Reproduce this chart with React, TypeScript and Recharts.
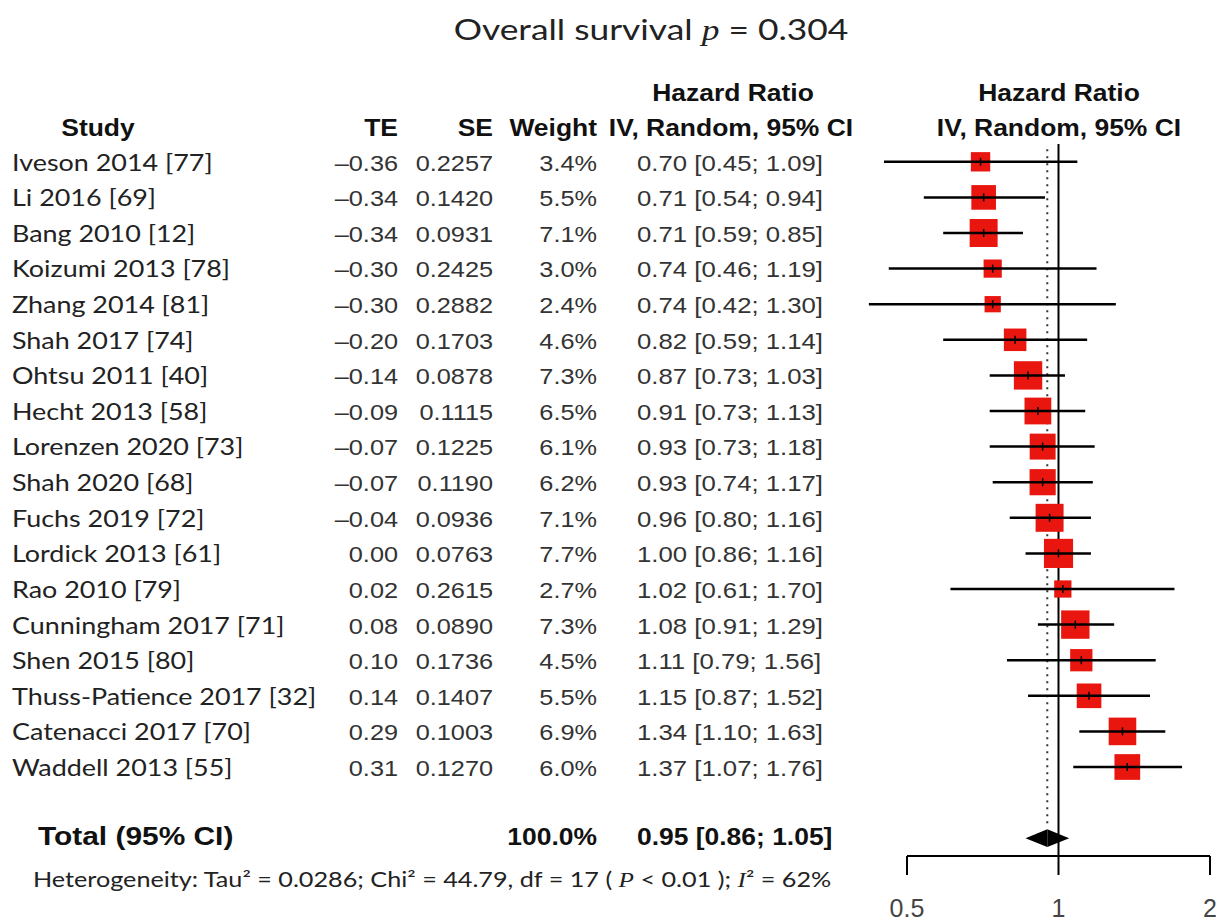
import React from "react";
import {
  ComposedChart,
  Scatter,
  XAxis,
  YAxis,
  ReferenceLine,
  ReferenceArea,
} from "recharts";

const studies = [
  "Iveson 2014 [77]",
  "Li 2016 [69]",
  "Bang 2010 [12]",
  "Koizumi 2013 [78]",
  "Zhang 2014 [81]",
  "Shah 2017 [74]",
  "Ohtsu 2011 [40]",
  "Hecht 2013 [58]",
  "Lorenzen 2020 [73]",
  "Shah 2020 [68]",
  "Fuchs 2019 [72]",
  "Lordick 2013 [61]",
  "Rao 2010 [79]",
  "Cunningham 2017 [71]",
  "Shen 2015 [80]",
  "Thuss-Patience 2017 [32]",
  "Catenacci 2017 [70]",
  "Waddell 2013 [55]",
];
const teValues = [-0.36, -0.34, -0.34, -0.3, -0.3, -0.2, -0.14, -0.09, -0.07, -0.07, -0.04, 0.0, 0.02, 0.08, 0.1, 0.14, 0.29, 0.31];
const seValues = [0.2257, 0.142, 0.0931, 0.2425, 0.2882, 0.1703, 0.0878, 0.1115, 0.1225, 0.119, 0.0936, 0.0763, 0.2615, 0.089, 0.1736, 0.1407, 0.1003, 0.127];
const weights = [3.4, 5.5, 7.1, 3.0, 2.4, 4.6, 7.3, 6.5, 6.1, 6.2, 7.1, 7.7, 2.7, 7.3, 4.5, 5.5, 6.9, 6.0];
const hrValues = [0.7, 0.71, 0.71, 0.74, 0.74, 0.82, 0.87, 0.91, 0.93, 0.93, 0.96, 1.0, 1.02, 1.08, 1.11, 1.15, 1.34, 1.37];
const ciLower = [0.45, 0.54, 0.59, 0.46, 0.42, 0.59, 0.73, 0.73, 0.73, 0.74, 0.8, 0.86, 0.61, 0.91, 0.79, 0.87, 1.1, 1.07];
const ciUpper = [1.09, 0.94, 0.85, 1.19, 1.3, 1.14, 1.03, 1.13, 1.18, 1.17, 1.16, 1.16, 1.7, 1.29, 1.56, 1.52, 1.63, 1.76];

const pooled = { hr: 0.95, lo: 0.86, hi: 1.05 };
const axisTicks = [0.5, 1, 2];

const rows = studies.map((name, i) => ({
  name,
  row: i,
  hr: hrValues[i],
  lo: ciLower[i],
  hi: ciUpper[i],
  w: weights[i],
}));
const totalRow = rows.length + 1;

// row geometry (pixels) used for the text columns
const ROW0 = 161.5;
const ROWH = 35.62;
const rowY = (i: number) => ROW0 + ROWH * i;

const SANS = "'Liberation Sans', Arial, sans-serif";
const ROUND = "Lato, 'Open Sans', sans-serif";
const SERIF = "'Liberation Serif', 'DejaVu Serif', serif";
const RED = "#e8160f";

const fmt2 = (v: number) => (v < 0 ? "\u2013" + Math.abs(v).toFixed(2) : v.toFixed(2));

const T = ({ x, y, sx = 1.15, anchor = "start", size = 22, family = SANS, weight = 400, fill = "#333", children }: any) => (
  <text
    transform={`translate(${x},${y}) scale(${sx},1)`}
    textAnchor={anchor}
    fontSize={size}
    fontFamily={family}
    fontWeight={weight}
    fill={fill}
  >
    {children}
  </text>
);

const Square = (props: any) => {
  const { cx, cy, payload } = props;
  const s = 10.5 * Math.sqrt(payload.w);
  return (
    <g>
      <rect x={cx - s / 2} y={cy - s / 2} width={s} height={s} fill={RED} />
      <line x1={cx} x2={cx} y1={cy - 4} y2={cy + 4} stroke="#000" strokeWidth={1.5} />
    </g>
  );
};

const leftHalf = (p: any) => (
  <polygon
    points={`${p.x},${p.y + p.height / 2} ${p.x + p.width},${p.y} ${p.x + p.width},${p.y + p.height}`}
    fill="#000"
  />
);
const rightHalf = (p: any) => (
  <polygon
    points={`${p.x},${p.y} ${p.x + p.width},${p.y + p.height / 2} ${p.x},${p.y + p.height}`}
    fill="#000"
  />
);

export default function App() {
  return (
    <div style={{ position: "absolute", left: 0, top: 0, width: 1221, height: 924, background: "#fff" }}>
      <div style={{ position: "absolute", left: 0, top: 0 }}>
        <ComposedChart width={1221} height={924} margin={{ top: 144, right: 11, bottom: 8, left: 907 }}>
          <XAxis
            type="number"
            dataKey="hr"
            scale="log"
            domain={[0.5, 2]}
            ticks={axisTicks}
            allowDataOverflow
            height={60}
            tickSize={19}
            tickMargin={24}
            axisLine={{ stroke: "#000", strokeWidth: 2 }}
            tickLine={{ stroke: "#000", strokeWidth: 2 }}
            tick={{ fill: "#444", fontSize: 25, fontFamily: SANS }}
          />
          <YAxis type="number" dataKey="row" domain={[-0.5, 19.5]} reversed hide />
          <ReferenceLine
            segment={[{ x: pooled.hr, y: -0.35 }, { x: pooled.hr, y: 18.6 }]}
            stroke="#333"
            strokeWidth={2}
            strokeDasharray="2 5"
          />
          <ReferenceLine x={1} stroke="#000" strokeWidth={2} />
          <Scatter data={rows} dataKey="row" shape={Square} isAnimationActive={false} />
          {rows.map((r) => (
            <ReferenceLine
              key={r.name}
              segment={[{ x: r.lo, y: r.row }, { x: r.hi, y: r.row }]}
              stroke="#000"
              strokeWidth={2.5}
              ifOverflow="visible"
              zIndex={700}
            />
          ))}
          <ReferenceArea x1={pooled.lo} x2={pooled.hr} y1={totalRow - 0.25} y2={totalRow + 0.25} shape={leftHalf} />
          <ReferenceArea x1={pooled.hr} x2={pooled.hi} y1={totalRow - 0.25} y2={totalRow + 0.25} shape={rightHalf} />
        </ComposedChart>
      </div>
      <svg width={1221} height={924} style={{ position: "absolute", left: 0, top: 0, pointerEvents: "none" }}>
        <T x={651} y={40} anchor="middle" size={29} family={ROUND} sx={1.22} fill="#222">
          Overall survival <tspan fontFamily={SERIF} fontStyle="italic">p</tspan> = 0.304
        </T>
        <T x={733} y={101} anchor="middle" size={23} weight={700} fill="#111">Hazard Ratio</T>
        <T x={1059} y={101} anchor="middle" size={23} weight={700} fill="#111">Hazard Ratio</T>
        <T x={98} y={136} anchor="middle" size={23} weight={700} fill="#111">Study</T>
        <T x={398} y={136} anchor="end" size={23} weight={700} fill="#111">TE</T>
        <T x={493} y={136} anchor="end" size={23} weight={700} fill="#111">SE</T>
        <T x={597} y={136} anchor="end" size={23} weight={700} fill="#111">Weight</T>
        <T x={731} y={136} anchor="middle" size={23} weight={700} fill="#111">IV, Random, 95% CI</T>
        <T x={1059} y={136} anchor="middle" size={23} weight={700} fill="#111">IV, Random, 95% CI</T>
        {rows.map((r, i) => (
          <g key={r.name}>
            <T x={12} y={rowY(i) + 9} size={23} family={ROUND} sx={1.17} fill="#222">{r.name}</T>
            <T x={398} y={rowY(i) + 9} anchor="end">{fmt2(teValues[i])}</T>
            <T x={493} y={rowY(i) + 9} anchor="end">{seValues[i].toFixed(4)}</T>
            <T x={597} y={rowY(i) + 9} anchor="end">{weights[i].toFixed(1)}%</T>
            <T x={637} y={rowY(i) + 9} sx={1.17}>
              {`${r.hr.toFixed(2)} [${r.lo.toFixed(2)}; ${r.hi.toFixed(2)}]`}
            </T>
          </g>
        ))}
        <T x={38} y={rowY(totalRow) + 7} size={26} weight={700} fill="#111">Total (95% CI)</T>
        <T x={597} y={rowY(totalRow) + 7} anchor="end" size={23} weight={700} fill="#111">100.0%</T>
        <T x={637} y={rowY(totalRow) + 7} size={23} weight={700} fill="#111">
          {`${pooled.hr.toFixed(2)} [${pooled.lo.toFixed(2)}; ${pooled.hi.toFixed(2)}]`}
        </T>
        <T x={33} y={887} size={21} family={ROUND} sx={1.2} fill="#222">
          Heterogeneity: Tau² = 0.0286; Chi² = 44.79, df = 17 ({" "}
          <tspan fontFamily={SERIF} fontStyle="italic">P</tspan> &lt; 0.01 );{" "}
          <tspan fontFamily={SERIF} fontStyle="italic">I</tspan>² = 62%
        </T>
      </svg>
    </div>
  );
}
